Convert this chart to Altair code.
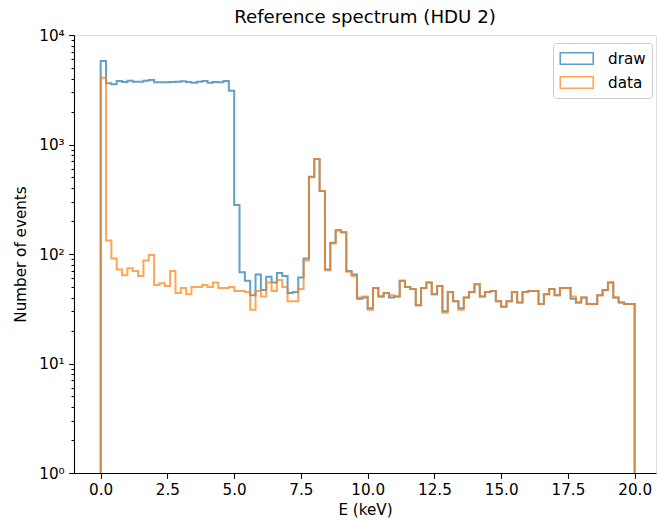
import altair as alt
import pandas as pd

# ---- data ----
energy_start = 0.0
bin_width = 0.2

draw_counts = [
    5800, 3630, 3550, 3800, 3720, 3830, 3750, 3750, 3830, 3880,
    3700, 3700, 3700, 3720, 3750, 3780, 3720, 3670, 3750, 3800,
    3670, 3720, 3700, 3800, 3100, 280, 68, 57, 42, 65,
    47, 62, 55, 67, 63, 44, 45, 61, 91, 508,
    736, 376, 72, 127, 165, 158, 70, 65, 39, 40,
    32, 49, 41, 44, 40, 41, 57, 50, 48, 34,
    49, 55, 43, 51, 30, 45, 37, 32, 40, 45,
    53, 41, 45, 46, 37, 33, 37, 45, 36, 45,
    46, 46, 35, 43, 48, 42, 49, 49, 39, 36,
    40, 35, 35, 42, 47, 55, 40, 36, 35, 35,
]

data_counts = [
    4080, 133, 91, 72, 64, 74, 70, 63, 87, 98,
    52, 54, 51, 70, 44, 49, 43, 50, 50, 52,
    50, 55, 49, 49, 50, 46, 46, 45, 31, 46,
    41, 55, 46, 58, 50, 37, 37, 48, 87, 501,
    736, 376, 71, 125, 165, 158, 69, 63, 40, 41,
    31, 49, 41, 44, 42, 41, 57, 50, 48, 34,
    49, 55, 43, 51, 29, 45, 37, 31, 40, 45,
    53, 41, 45, 46, 37, 33, 37, 45, 36, 45,
    46, 46, 35, 43, 48, 42, 49, 49, 41, 36,
    40, 35, 35, 42, 47, 55, 40, 36, 35, 35,
]

series_names = ["draw", "data"]
series_colors = ["#1f77b4", "#ff7f0e"]
x_ticks = [0, 2.5, 5, 7.5, 10, 12.5, 15, 17.5, 20]
y_major = [1, 10, 100, 1000, 10000]
y_all_ticks = [m * 10 ** k for k in range(4) for m in range(1, 10)] + [10000]

FONT = "DejaVu Sans"
FS = 15.2
TICK = 5.3
MINOR = 3.0


def step_rows(name, counts):
    n = len(counts)
    rows = [{"series": name, "E": energy_start, "count": 1, "k": 0}]
    for i, c in enumerate(counts):
        rows.append({"series": name, "E": round(energy_start + i * bin_width, 6),
                     "count": c, "k": i + 1})
    end = round(energy_start + n * bin_width, 6)
    rows.append({"series": name, "E": end, "count": counts[-1], "k": n + 1})
    rows.append({"series": name, "E": end, "count": 1, "k": n + 2})
    return rows


df_draw = pd.DataFrame(step_rows("draw", draw_counts))
df_data = pd.DataFrame(step_rows("data", data_counts))

label_expr = ("datum.value == 1 ? '10⁰' : datum.value == 10 ? '10¹' : "
              "datum.value == 100 ? '10²' : datum.value == 1000 ? '10³' : "
              "datum.value == 10000 ? '10⁴' : ''")
major_test = "abs(log(datum.value)/LN10 - round(log(datum.value)/LN10)) < 1e-6"

x_enc = alt.X(
    "E:Q",
    scale=alt.Scale(domain=[-1, 20.8], nice=False, zero=False),
    axis=alt.Axis(
        values=x_ticks, format=".1f", title="E (keV)", grid=False,
        tickSize=TICK, tickColor="black", tickWidth=1.1,
        labelPadding=4.5, labelFontSize=FS, labelFont=FONT, labelColor="black",
        titleFontSize=FS, titleFont=FONT, titleFontWeight="normal",
        titleColor="black", titlePadding=4,
        domainColor="black", domainWidth=1.1, labelFlush=False,
    ),
)

y_enc = alt.Y(
    "count:Q",
    scale=alt.Scale(type="log", domain=[1, 10000], nice=False),
    axis=alt.Axis(
        values=y_all_ticks, labelExpr=label_expr, title="Number of events",
        grid=False,
        tickSize={"condition": {"test": major_test, "value": TICK}, "value": MINOR},
        tickColor="black", tickWidth=1.1,
        labelPadding=4.5, labelFontSize=FS, labelFont=FONT, labelColor="black",
        titleFontSize=FS, titleFont=FONT, titleFontWeight="normal",
        titleColor="black", titlePadding=10,
        domainColor="black", domainWidth=1.1, labelFlush=False,
    ),
)

color_enc = alt.Color(
    "series:N",
    scale=alt.Scale(domain=series_names, range=series_colors),
    legend=alt.Legend(
        title=None, orient="none", legendX=479, legendY=8,
        symbolType="M-1,-0.7H3V0.7H-1Z", symbolSize=272,
        symbolStrokeWidth=1.6, symbolFillColor="transparent", symbolOpacity=0.7,
        labelFontSize=FS, labelFont=FONT, labelColor="black", labelOffset=30,
        strokeColor="#cccccc", fillColor="white", cornerRadius=3,
        padding=6, rowPadding=5,
    ),
)

line_kw = dict(interpolate="step-after", strokeWidth=2, opacity=0.7, clip=True)

blue = alt.Chart(df_draw).mark_line(**line_kw).encode(
    x=x_enc, y=y_enc, color=color_enc, order=alt.Order("k:Q"))
orange = alt.Chart(df_data).mark_line(**line_kw).encode(
    x=x_enc, y=y_enc, color=color_enc, order=alt.Order("k:Q"))

chart = alt.layer(blue, orange).properties(
    width=582, height=438,
    autosize=alt.AutoSizeParams(type="none"),
    padding={"left": 74, "top": 35, "right": 1, "bottom": 49},
    title=alt.TitleParams("Reference spectrum (HDU 2)", fontSize=18.2, font=FONT,
                          fontWeight="normal", color="black", offset=1,
                          anchor="middle"),
).configure_view(stroke="black", strokeWidth=1.1).configure(background="white")

chart.save("out.html", embed_options={"renderer": "svg", "actions": False})
